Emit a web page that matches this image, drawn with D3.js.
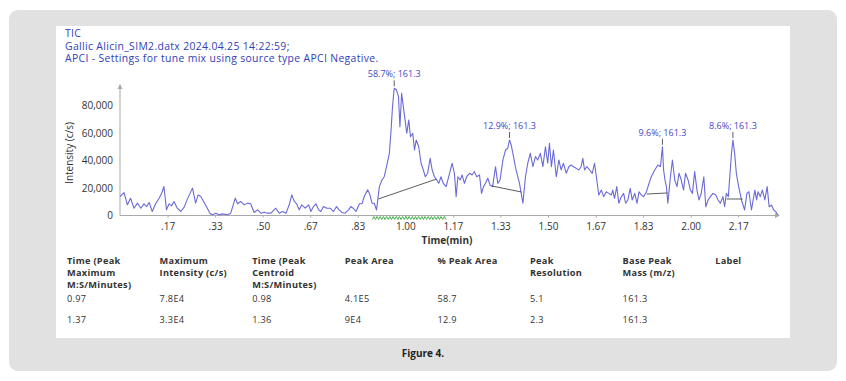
<!DOCTYPE html>
<html>
<head>
<meta charset="utf-8">
<script src="https://cdn.jsdelivr.net/npm/d3@7"></script>
<style>
  html, body { margin: 0; padding: 0; background: #ffffff; }
  svg { display: block; }
  text { font-family: "Open Sans", "Noto Sans", sans-serif; }
</style>
</head>
<body>
<svg id="chart" width="846" height="381"></svg>
<script>
// ---------------- DATA ----------------
const headerLines = [
  "TIC",
  "Gallic Alicin_SIM2.datx 2024.04.25 14:22:59;",
  "APCI - Settings for tune mix using source type APCI Negative."
];
const times = [
  0.000,0.014,0.026,0.037,0.049,0.061,0.073,0.084,0.094,0.102,0.113,0.125,0.137,0.146,0.154,0.163,0.172,0.181,0.189,0.201,
  0.213,0.225,0.236,0.254,0.265,0.274,0.283,0.295,0.306,0.315,0.324,0.336,0.347,0.359,0.377,0.388,0.404,0.412,0.423,0.435,
  0.447,0.458,0.470,0.482,0.494,0.505,0.517,0.529,0.546,0.558,0.570,0.582,0.593,0.602,0.611,0.619,0.628,0.637,0.649,0.661,
  0.669,0.678,0.687,0.696,0.704,0.713,0.725,0.737,0.748,0.759,0.768,0.778,0.789,0.801,0.809,0.817,0.827,0.839,0.848,0.856,
  0.868,0.876,0.883,0.891,0.899,0.909,0.918,0.926,0.934,0.944,0.950,0.955,0.961,0.969,0.976,0.981,0.987,0.993,0.999,1.005,
  1.012,1.018,1.026,1.032,1.038,1.047,1.055,1.063,1.070,1.078,1.087,1.094,1.102,1.110,1.117,1.125,1.133,1.143,1.152,1.164,
  1.172,1.178,1.184,1.192,1.199,1.207,1.215,1.225,1.234,1.242,1.250,1.260,1.267,1.274,1.281,1.289,1.297,1.306,1.316,1.324,
  1.332,1.342,1.351,1.359,1.365,1.371,1.379,1.388,1.400,1.412,1.421,1.429,1.438,1.447,1.456,1.464,1.473,1.482,1.491,1.499,
  1.505,1.512,1.519,1.529,1.538,1.546,1.554,1.564,1.573,1.581,1.589,1.599,1.608,1.616,1.622,1.628,1.636,1.646,1.655,1.663,
  1.671,1.678,1.687,1.695,1.704,1.713,1.722,1.727,1.733,1.741,1.748,1.757,1.765,1.772,1.780,1.788,1.795,1.804,1.812,1.819,
  1.827,1.835,1.845,1.854,1.862,1.874,1.885,1.894,1.901,1.905,1.910,1.915,1.920,1.929,1.936,1.944,1.952,1.959,1.967,1.975,
  1.982,1.991,1.999,2.006,2.014,2.022,2.029,2.037,2.046,2.053,2.061,2.069,2.078,2.088,2.096,2.104,2.113,2.119,2.125,2.132,
  2.137,2.143,2.148,2.154,2.160,2.168,2.178,2.189,2.197,2.204,2.213,2.219,2.225,2.231,2.236,2.244,2.251,2.260,2.268,2.275,
  2.283,2.291,2.298,2.306
];
const intensity = [
  13800,16700,7800,12600,5300,9000,5300,8500,6500,9500,2900,8500,12600,16200,21100,4100,8500,7000,10200,5300,
  2900,6100,11900,19900,9000,15000,13800,9500,5300,1700,500,1700,500,1200,500,1700,12600,8500,10200,7800,
  9000,8500,2200,4100,1700,2400,1700,1700,5300,1700,2900,1700,7800,15000,10200,8500,4100,7800,5300,7800,
  2900,6500,8500,4100,2900,6500,5300,5300,2900,6500,4100,2200,1700,4100,6500,5300,2900,8500,8500,13800,
  18700,15000,9000,8900,4000,21000,25800,28200,35500,45200,62200,79100,92500,91300,86400,64600,88900,79100,69500,59800,
  69500,57300,59800,47600,54900,50000,38000,33100,28200,30700,41600,33100,28200,25800,23400,28200,23400,21000,28200,38000,
  30700,13700,28200,25800,29500,23400,28200,30700,29500,31900,28200,29500,16100,21000,23400,27100,22200,21000,35500,23400,
  25800,40400,47600,48900,54900,51300,42800,33100,23400,8900,28200,38000,45200,35500,42800,40400,45200,35500,50000,38000,
  52500,35500,47600,28200,40400,33100,38000,30700,35500,36700,35500,34300,33100,35500,41600,33100,35500,33100,30700,38000,
  25800,14900,18500,13700,17300,16100,14900,18500,12500,21000,8900,13700,16100,8900,11300,19800,11300,16100,8900,17300,
  14900,13700,17300,23400,28200,33100,36700,35500,50000,33100,25800,21000,8900,28200,40400,25800,21000,30700,25800,18500,
  30700,25800,18500,16100,31900,18500,11300,16100,28200,6400,11300,13700,16100,14900,11300,8900,13700,6400,16100,13700,
  28200,45200,54900,45200,30700,21000,11300,4000,16100,17300,4000,11300,18500,11300,17300,13700,18500,11300,21000,6400,
  7600,4000,2800,400
];
// integration baselines
const baselineStartT = [0.905, 1.302, 1.846, 2.126];
const baselineStartI = [12000, 21500, 15600, 12000];
const baselineEndT   = [1.109, 1.407, 1.919, 2.182];
const baselineEndI   = [26500, 17100, 16400, 12000];
// peak annotations
const peakTimes = [0.961, 1.365, 1.901, 2.148];
const peakPercents = ["58.7%", "12.9%", "9.6%", "8.6%"];
const peakMass = "161.3";
// highlighted (green) retention window
const windowStart = 0.884, windowEnd = 1.144;
// axes
const yTicks = [0, 20000, 40000, 60000, 80000];
const xTicks = [0.1667, 0.3333, 0.5, 0.6667, 0.8333, 1.0, 1.1667, 1.3333, 1.5, 1.6667, 1.8333, 2.0, 2.1667];
const xTickLabels = [".17", ".33", ".50", ".67", ".83", "1.00", "1.17", "1.33", "1.50", "1.67", "1.83", "2.00", "2.17"];
// table
const tableHeaders = [
  ["Time (Peak", "Maximum", "M:S/Minutes)"],
  ["Maximum", "Intensity (c/s)"],
  ["Time (Peak", "Centroid", "M:S/Minutes)"],
  ["Peak Area"],
  ["% Peak Area"],
  ["Peak", "Resolution"],
  ["Base Peak", "Mass (m/z)"],
  ["Label"]
];
const tableRow1 = ["0.97", "7.8E4", "0.98", "4.1E5", "58.7", "5.1", "161.3", ""];
const tableRow2 = ["1.37", "3.3E4", "1.36", "9E4", "12.9", "2.3", "161.3", ""];
const caption = "Figure 4.";

// ---------------- DRAW ----------------
const svg = d3.select("#chart");
const sansTight = "'Liberation Sans', Arial, sans-serif";

// outer gray card
svg.append("rect").attr("x", 9).attr("y", 10).attr("width", 828).attr("height", 361)
  .attr("rx", 9).attr("fill", "#e1e1e1");
// white panel
svg.append("rect").attr("x", 56).attr("y", 26).attr("width", 734).attr("height", 312)
  .attr("fill", "#ffffff");

// header
const blue = "#3040b8";
svg.append("g").selectAll("text").data(headerLines).join("text")
  .attr("x", 65).attr("y", (d, i) => 37 + i * 12.6)
  .attr("font-family", sansTight).attr("font-size", 10.4).attr("letter-spacing", 0.35)
  .attr("fill", blue).text(d => d);

// scales
const x = d3.scaleLinear().domain([0, 2.306]).range([120, 778]);
const y = d3.scaleLinear().domain([0, 80000]).range([215.5, 105.5]);

const axisColor = "#a9a9a9";
// y axis
const gy = svg.append("g").attr("transform", "translate(120,0)")
  .call(d3.axisLeft(y).tickValues(yTicks).tickSize(0).tickPadding(7)
    .tickFormat(d3.format(",")));
gy.select(".domain").remove();
gy.selectAll("text").attr("font-size", 10).attr("fill", "#333")
  .attr("font-family", "'Open Sans', sans-serif");
svg.append("line").attr("x1", 120).attr("x2", 120).attr("y1", y(0)).attr("y2", 85)
  .attr("stroke", axisColor).attr("stroke-width", 1);
svg.append("path").attr("d", "M117.5,89 L120,84 L122.5,89 Z").attr("fill", axisColor);

// x axis
const gx = svg.append("g").attr("transform", `translate(0,${y(0)})`)
  .call(d3.axisBottom(x).tickValues(xTicks).tickSize(2).tickPadding(5)
    .tickFormat((d, i) => xTickLabels[i]));
gx.select(".domain").remove();
gx.selectAll("line").attr("stroke", axisColor);
gx.selectAll("text").attr("font-size", 10).attr("fill", "#333")
  .attr("font-family", "'Open Sans', sans-serif");
svg.append("line").attr("x1", 120).attr("x2", 779).attr("y1", y(0)).attr("y2", y(0))
  .attr("stroke", axisColor).attr("stroke-width", 1);
svg.append("path").attr("d", `M775,${y(0) - 2.5} L780,${y(0)} L775,${y(0) + 2.5} Z`).attr("fill", axisColor);

// axis titles
svg.append("text").attr("transform", "translate(73,153) rotate(-90)")
  .attr("text-anchor", "middle").attr("font-size", 10).attr("fill", "#333")
  .text("Intensity (c/s)");
svg.append("text").attr("x", 447).attr("y", 244).attr("text-anchor", "middle")
  .attr("font-size", 10).attr("font-weight", "bold").attr("fill", "#333")
  .text("Time(min)");

// green window zigzag
const zz = [];
const step = 1.6;
const x0 = x(windowStart), x1 = x(windowEnd);
for (let px = x0, k = 0; px <= x1; px += step, k++) zz.push([px, k % 2 ? 216.5 : 219.5]);
svg.append("path").attr("d", d3.line()(zz)).attr("fill", "none")
  .attr("stroke", "#46b04a").attr("stroke-width", 1);

// trace
const pts = times.map((t, i) => [t, intensity[i]]);
svg.append("path").datum(pts)
  .attr("d", d3.line().x(d => x(d[0])).y(d => y(d[1])))
  .attr("fill", "none").attr("stroke", "#6a6ad8").attr("stroke-width", 1.1)
  .attr("stroke-linejoin", "round");

// baselines
svg.append("g").selectAll("line").data(baselineStartT).join("line")
  .attr("x1", (d) => x(d)).attr("y1", (d, i) => y(baselineStartI[i]))
  .attr("x2", (d, i) => x(baselineEndT[i])).attr("y2", (d, i) => y(baselineEndI[i]))
  .attr("stroke", "#333").attr("stroke-width", 0.8);

// peak labels
function peakI(t) {
  let best = 0;
  times.forEach((tt, i) => { if (Math.abs(tt - t) < 0.004) best = Math.max(best, intensity[i]); });
  return best;
}
const pk = svg.append("g");
peakTimes.forEach((t, i) => {
  const py = y(peakI(t));
  pk.append("line").attr("x1", x(t)).attr("x2", x(t)).attr("y1", py - 8).attr("y2", py - 2)
    .attr("stroke", "#333").attr("stroke-width", 0.8);
  pk.append("text").attr("x", x(t)).attr("y", py - 11).attr("text-anchor", "middle")
    .attr("font-size", 9).attr("fill", "#4646c4")
    .text(`${peakPercents[i]}; ${peakMass}`);
});

// table
const colX = d3.range(8).map(i => 67 + i * 92.6);
const tbl = svg.append("g").attr("fill", "#333").attr("font-family", sansTight)
  .attr("font-size", 9.2).attr("letter-spacing", 0.3);
tableHeaders.forEach((lines, c) => {
  lines.forEach((ln, r) => {
    tbl.append("text").attr("x", colX[c]).attr("y", 264 + r * 11.8)
      .attr("font-weight", "bold").text(ln);
  });
});
[tableRow1, tableRow2].forEach((row, r) => {
  row.forEach((v, c) => {
    if (v !== "") tbl.append("text").attr("x", colX[c]).attr("y", 302 + r * 21).text(v);
  });
});

// caption
svg.append("text").attr("x", 423).attr("y", 357).attr("text-anchor", "middle")
  .attr("font-family", "'Liberation Serif', serif").attr("font-weight", "bold")
  .attr("font-size", 10).attr("fill", "#222").text(caption);
</script>
</body>
</html>
